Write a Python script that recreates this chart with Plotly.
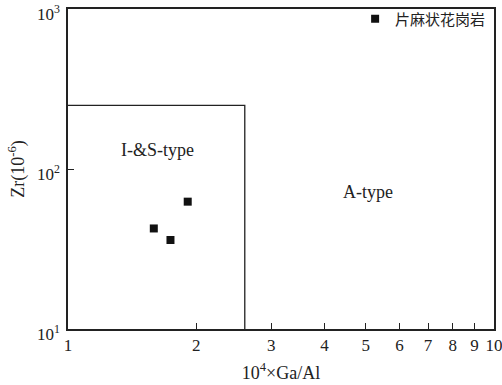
import plotly.graph_objects as go

# data
sample_name = "片麻状花岗岩"
ga_al = [1.59, 1.74, 1.91]
zr = [42.5, 36.0, 62.5]

# I&S-type field boundary
field_x = [1, 2.6, 2.6]
field_y = [250, 250, 10]

x_ticks = [1, 2, 3, 4, 5, 6, 7, 8, 9, 10]
x_ticklabels = ["1", "2", "3", "4", "5", "6", "7", "8", "9", "10"]
y_ticks = [10, 100, 1000]
y_ticklabels = ["10<sup>1</sup>", "10<sup>2</sup>", "10<sup>3</sup>"]

serif = "Liberation Serif, Times New Roman, serif"
ink = "#222222"

fig = go.Figure()
fig.add_trace(go.Scatter(x=field_x, y=field_y, mode="lines",
                         line=dict(color=ink, width=1.3), showlegend=False,
                         hoverinfo="skip"))
fig.add_trace(go.Scatter(x=ga_al, y=zr, mode="markers", name=sample_name,
                         marker=dict(symbol="square", size=8, color="#111111")))

fig.add_annotation(x=0.209, y=2.119, xref="x", yref="y", text="I-&S-type",
                   showarrow=False, font=dict(family=serif, size=18, color=ink))
fig.add_annotation(x=0.7035, y=1.856, xref="x", yref="y", text="A-type",
                   showarrow=False, font=dict(family=serif, size=18, color=ink))

fig.update_layout(
    width=502, height=385,
    margin=dict(l=68, r=8, t=9, b=56, autoexpand=False),
    paper_bgcolor="white", plot_bgcolor="white",
    font=dict(family=serif, size=17, color=ink),
    legend=dict(x=0.674, y=1.02, xanchor="left", yanchor="top",
                bgcolor="rgba(0,0,0,0)", borderwidth=0,
                font=dict(family="Noto Sans CJK SC", size=15, color=ink),
                itemwidth=30),
    xaxis=dict(type="log", range=[0, 1], tickvals=x_ticks, ticktext=x_ticklabels,
               ticks="inside", ticklen=6, tickwidth=1.3, tickcolor=ink,
               showline=True, linecolor=ink, linewidth=1.5, mirror=True,
               showgrid=False, zeroline=False, ticklabeloverflow="allow",
               automargin=False,
               title=dict(text="10<sup>4</sup>×Ga/Al", standoff=12,
                          font=dict(family=serif, size=18))),
    yaxis=dict(type="log", range=[1, 3], tickvals=y_ticks, ticktext=y_ticklabels,
               ticks="inside", ticklen=6, tickwidth=1.3, tickcolor=ink,
               showline=True, linecolor=ink, linewidth=1.5, mirror=True,
               showgrid=False, zeroline=False, ticklabeloverflow="allow",
               ticklabelstandoff=3, ticklabelshift=5, automargin=False,
               title=dict(text="Zr(10<sup>-6</sup>)", standoff=8,
                          font=dict(family=serif, size=18))),
)

fig.write_html("out.html")
